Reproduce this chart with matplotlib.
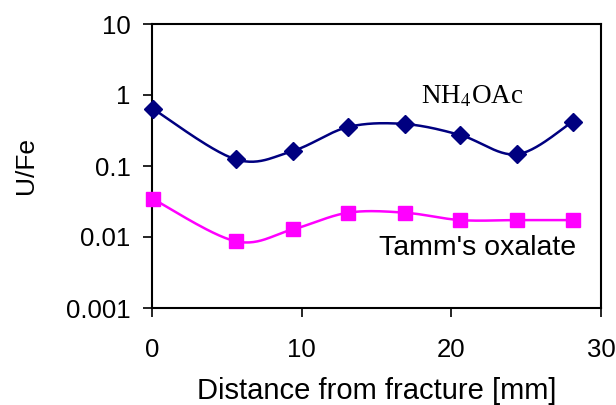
import numpy as np
import matplotlib
matplotlib.use('Agg')
import matplotlib.pyplot as plt

# distance from fracture [mm]
distance = [0.1, 5.6, 9.4, 13.1, 16.9, 20.6, 24.4, 28.1]
# U/Fe ratios
nh4oac = [0.63, 0.124, 0.163, 0.354, 0.39, 0.273, 0.146, 0.42]
tamm = [0.034, 0.0087, 0.0128, 0.022, 0.022, 0.0173, 0.0173, 0.0173]


def smooth(xs, ys, n=30):
    """Excel-like smoothed line (Catmull-Rom Bezier), in log space for y"""
    x = np.asarray(xs, float)
    y = np.log10(np.asarray(ys, float))
    px, py = [], []
    for i in range(len(x) - 1):
        i0 = max(i - 1, 0)
        i3 = min(i + 2, len(x) - 1)
        p0 = np.array([x[i], y[i]])
        p3 = np.array([x[i + 1], y[i + 1]])
        c1 = p0 + (p3 - np.array([x[i0], y[i0]])) / 6
        c2 = p3 - (np.array([x[i3], y[i3]]) - p0) / 6
        t = np.linspace(0, 1, n)[:, None]
        pts = ((1 - t) ** 3) * p0 + 3 * ((1 - t) ** 2) * t * c1 + 3 * (1 - t) * t ** 2 * c2 + t ** 3 * p3
        px.extend(pts[:, 0])
        py.extend(pts[:, 1])
    return np.array(px), 10 ** np.array(py)


plt.rcParams['font.family'] = ['Liberation Sans', 'DejaVu Sans']

fig = plt.figure(figsize=(6.16, 4.05), dpi=100)
ax = fig.add_axes([152 / 616, 1 - 308 / 405, 449 / 616, 284 / 405])

sx, sy = smooth(distance, nh4oac)
ax.plot(sx, sy, color='#000080', lw=1.8, zorder=2)
ax.plot(distance, nh4oac, ls='none', marker='D', ms=9.5, color='#000080', zorder=3, clip_on=False)

sx, sy = smooth(distance, tamm)
ax.plot(sx, sy, color='#FF00FF', lw=1.8, zorder=2)
ax.plot(distance, tamm, ls='none', marker='s', ms=10.5, color='#FF00FF', zorder=3, clip_on=False)

ax.set_yscale('log')
ax.set_ylim(0.001, 10)
ax.set_xlim(0, 30)
ax.set_yticks([0.001, 0.01, 0.1, 1, 10])
ax.set_yticklabels(['0.001', '0.01', '0.1', '1', '10'])
ax.minorticks_off()
ax.set_xticks([0, 10, 20, 30])

for s in ax.spines.values():
    s.set_linewidth(1.5)
ax.tick_params(direction='out', length=6.5, width=1.2, labelsize=18.5)
ax.tick_params(axis='y', pad=9)
ax.tick_params(axis='x', pad=15)

ax.set_xlabel('Distance from fracture [mm]', fontsize=21, labelpad=11)
ax.set_ylabel('U/Fe', fontsize=19, labelpad=20)

ax.text(18.0, 0.75, r'NH$_4$OAc', fontsize=19.5, family='Liberation Serif',
        math_fontfamily='stix', ha='left', va='baseline')
ax.text(15.2, 0.0056, "Tamm's oxalate", fontsize=20.5, ha='left', va='baseline')

fig.savefig('out.png', dpi=100)
